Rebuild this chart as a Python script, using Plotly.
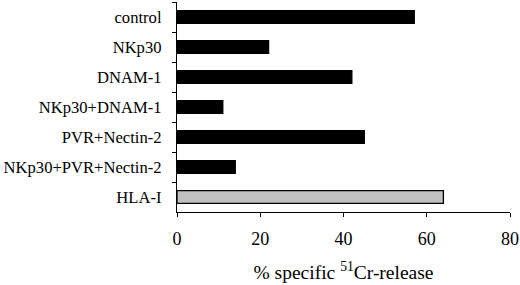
import plotly.graph_objects as go

categories = ["control", "NKp30", "DNAM-1", "NKp30+DNAM-1", "PVR+Nectin-2",
              "NKp30+PVR+Nectin-2", "HLA-I"]
values = [57, 22, 42, 11, 45, 14, 64]
bar_colors = ["#000000"] * 6 + ["#c0c0c0"]
x_ticks = [0, 20, 40, 60, 80]

font_family = "Liberation Serif, Times New Roman, serif"

fig = go.Figure()
fig.add_trace(go.Bar(
    x=values, y=categories, orientation="h",
    marker=dict(color=bar_colors, line=dict(color="#000000", width=1.3)),
    width=0.42,
))

fig.update_layout(
    width=520, height=285,
    margin=dict(l=177, r=10, t=2, b=73, autoexpand=False),
    paper_bgcolor="white", plot_bgcolor="white",
    font=dict(family=font_family, size=17, color="black"),
    showlegend=False,
    bargap=0.58,
)
fig.update_xaxes(
    range=[0, 80], tickvals=x_ticks, ticks="outside", ticklen=4,
    tickwidth=1.3, tickcolor="black",
    showline=True, linecolor="black", linewidth=1.3,
    showgrid=False, zeroline=False, automargin=False,
    ticklabeloverflow="allow",
    ticklabelstandoff=6,
    tickfont=dict(family=font_family, size=18),
    title=dict(text="% specific <sup>51</sup>Cr-release",
               font=dict(family=font_family, size=19.5), standoff=17),
)
fig.update_yaxes(
    categoryorder="array", categoryarray=categories, autorange="reversed",
    ticks="outside", ticklen=4, tickwidth=1.3, tickcolor="black",
    showline=True, linecolor="black", linewidth=1.3,
    showgrid=False, zeroline=False, automargin=False,
    tickson="boundaries",
    ticklabelstandoff=11,
    tickfont=dict(family=font_family, size=16.6),
)

fig.write_html("out.html", config={"displayModeBar": False},
               post_script="document.body.style.margin='0';document.body.style.padding='0';")
